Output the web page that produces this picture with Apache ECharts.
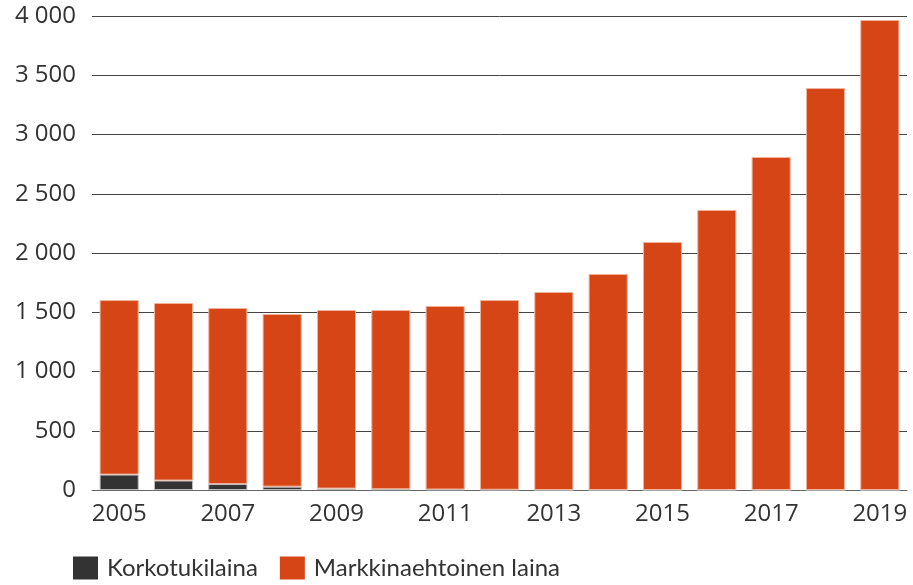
<!DOCTYPE html>
<html>
<head>
    <meta charset="utf-8">
    <title>Lainat</title>
    <script src="https://cdn.jsdelivr.net/npm/echarts@6/dist/echarts.min.js"></script>
    <style>
        html, body {margin:0;padding:0;background:#fff;}
        #main {width:913px;height:585px;}
    </style>
</head>
<body>
<div id="main"></div>
<script>
    var years = ['2005','2006','2007','2008','2009','2010','2011','2012','2013','2014','2015','2016','2017','2018','2019'];
    var korkotuki = [130, 80, 50, 28, 12, 6, 4, 2, 0, 0, 0, 0, 0, 0, 0];
    var markkina = [1473, 1498, 1486, 1457, 1507, 1513, 1549, 1601, 1671, 1823, 2093, 2363, 2810, 3392, 3966];
    var yTicks = [0, 500, 1000, 1500, 2000, 2500, 3000, 3500, 4000];

    var chart = echarts.init(document.getElementById('main'));
    chart.setOption({
        animation: false,
        textStyle: {fontFamily: 'Open Sans'},
        legend: {
            bottom: 0,
            left: 68,
            itemWidth: 25,
            itemHeight: 23,
            itemGap: 22,
            icon: 'rect',
            itemStyle: {borderWidth: 0},
            textStyle: {fontSize: 24, color: '#333', fontFamily: 'Lato', padding: [0, 0, 0, 4]},
            data: ['Korkotukilaina', 'Markkinaehtoinen laina']
        },
        grid: {left: 92, right: 6, top: 16, bottom: 95},
        xAxis: {
            type: 'category',
            data: years,
            axisTick: {show: false},
            axisLine: {lineStyle: {color: '#666', width: 1}},
            axisLabel: {interval: 1, fontSize: 24, color: '#333', margin: 12}
        },
        yAxis: {
            type: 'value',
            min: yTicks[0],
            max: yTicks[yTicks.length - 1],
            interval: 500,
            axisLine: {show: false},
            axisTick: {show: false},
            splitLine: {lineStyle: {color: '#444', width: 1}},
            axisLabel: {
                fontSize: 24, color: '#333', margin: 16,
                formatter: function (v) {
                    return String(v).replace(/\B(?=(\d{3})+(?!\d))/g, ' ');
                }
            }
        },
        series: [
            {
                name: 'Korkotukilaina',
                type: 'bar',
                stack: 'laina',
                barWidth: '72%',
                data: korkotuki,
                itemStyle: {color: '#333333', borderColor: '#bdbdbd', borderWidth: 1}
            },
            {
                name: 'Markkinaehtoinen laina',
                type: 'bar',
                stack: 'laina',
                data: markkina,
                itemStyle: {color: '#d64516', borderColor: '#f2b49c', borderWidth: 1}
            }
        ]
    });
</script>
</body>
</html>
